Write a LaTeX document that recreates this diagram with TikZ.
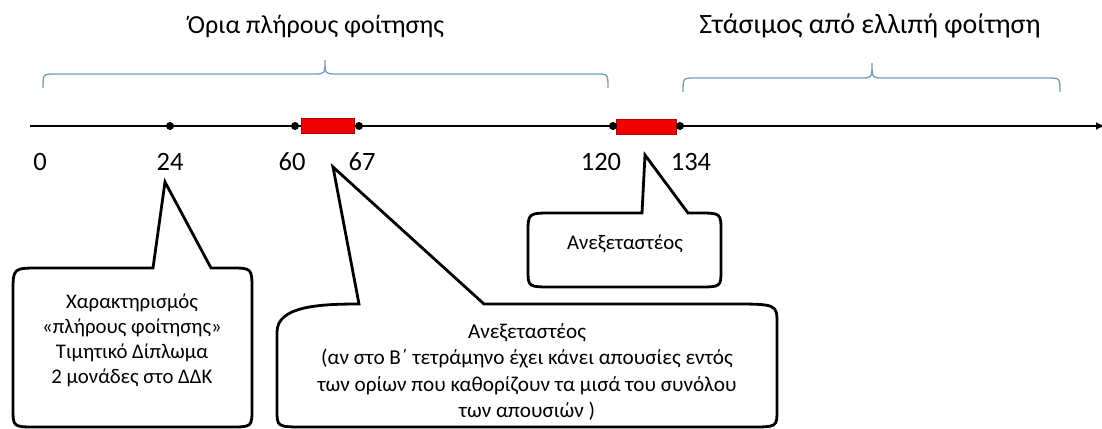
\documentclass[tikz,border=0pt]{standalone}
\usepackage{fontspec}
\setmainfont{Carlito}
\usetikzlibrary{arrows.meta}
\definecolor{bracecol}{HTML}{6E9CC2}
\definecolor{barred}{HTML}{F00000}
\tikzset{
  title/.style={font=\fontsize{26}{30}\selectfont, inner sep=0pt},
  titleb/.style={font=\fontsize{28}{32}\selectfont, inner sep=0pt},
  num/.style={font=\fontsize{26.5}{30}\selectfont, inner sep=0pt},
  ctext/.style={font=\fontsize{20.8}{25}\selectfont, align=center, inner sep=0pt},
  ctextb/.style={font=\fontsize{21.2}{26.5}\selectfont, align=center, inner sep=0pt},
  dot/.style={circle, fill=black, inner sep=0pt, minimum size=8pt},
  axis/.style={line width=2.2pt, -{Latex[length=9pt,width=8pt]}},
  bracel/.style={draw=bracecol, line width=1.3pt},
  redbar/.style={fill=barred, draw=red!70!black, line width=0.6pt},
  callout/.style={draw=black, line width=2.8pt, line join=miter, fill=white}
}
\begin{document}
\begin{tikzpicture}[x=1pt,y=-1pt]
\useasboundingbox (0,0) rectangle (1102,428);
\fill[white] (0,0) rectangle (1102,428);

% titles
\node[title] (t1) at (316,26) {Όρια πλήρους φοίτησης};
\node[titleb] (t2) at (870,26) {Στάσιμος από ελλιπή φοίτηση};

% braces
\draw[bracel] (43,88) .. controls (43,74) .. (55,74) -- (314,74) .. controls (325,74) .. (325,60)
  .. controls (325,74) .. (336,74) -- (596,74) .. controls (608,74) .. (608,88);
\draw[bracel] (683,92) .. controls (683,78) .. (695,78) -- (861,78) .. controls (872,78) .. (872,63)
  .. controls (872,78) .. (883,78) -- (1048,78) .. controls (1060,78) .. (1060,92);

% axis
\coordinate (axL) at (30,126);
\coordinate (axR) at (1105,126);
\draw[axis] (axL) -- (axR);

% red bars
\draw[redbar] (301,118) rectangle (354,133);
\draw[redbar] (616,119) rectangle (676,134);

% dots
\node[dot] (d24) at (170,126) {};
\node[dot] (d60) at (295,126) {};
\node[dot] (d67) at (359,126) {};
\node[dot] (d120) at (613,126) {};
\node[dot] (d134) at (680,126) {};

% numbers
\node[num] (n0) at (40,162) {0};
\node[num] (n24) at (170,162) {24};
\node[num] (n60) at (292,162) {60};
\node[num] (n67) at (362,162) {67};
\node[num] (n120) at (601,162) {120};
\node[num] (n134) at (691,162) {134};

% left callout
\coordinate (tipA) at (165,182);
\draw[callout] (153,268) -- (tipA) -- (211,268) -- (230,268) .. controls (252,268) .. (252,290)
  -- (252,408) .. controls (252,427) .. (230,427) -- (36,427) .. controls (13,427) .. (13,408)
  -- (13,292) .. controls (13,268) .. (40,268) -- cycle;
\node[ctext] (cA) at (132,340) {Χαρακτηρισμός\\«πλήρους φοίτησης»\\Τιμητικό Δίπλωμα\\2 μονάδες στο ΔΔΚ};

% middle callout
\coordinate (tipB) at (333,167);
\draw[callout] (359,304) -- (tipB) -- (484,304) -- (730,304) .. controls (777,304) .. (777,324)
  -- (777,410) .. controls (777,427) .. (750,427) -- (305,427) .. controls (277,427) .. (277,410)
  -- (277,332) .. controls (277,306) and (320,304) .. cycle;
\node[ctextb] (cB) at (527,372) {Ανεξεταστέος\\(αν στο Β΄ τετράμηνο έχει κάνει απουσίες εντός\\των ορίων που καθορίζουν τα μισά του συνόλου\\των απουσιών )};

% right callout
\coordinate (tipC) at (645,155);
\draw[callout] (642,213) -- (tipC) -- (688,213) -- (698,213) .. controls (721,213) .. (721,232)
  -- (721,270) .. controls (721,287) .. (698,287) -- (553,287) .. controls (528,287) .. (528,270)
  -- (528,233) .. controls (528,213) .. (553,213) -- cycle;
\node[ctext] (cC) at (625,244) {Ανεξεταστέος};
\end{tikzpicture}
\end{document}
